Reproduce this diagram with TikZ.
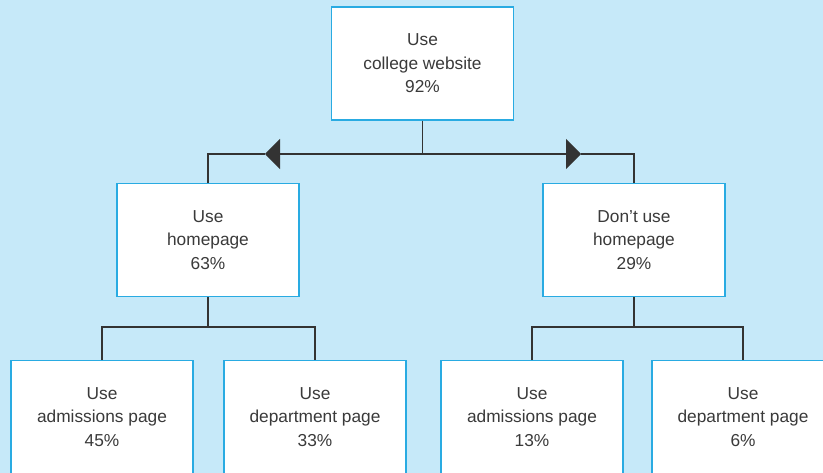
\documentclass[tikz,border=0pt]{standalone}
\usepackage{fontspec}
\setmainfont{Liberation Sans}
\usetikzlibrary{arrows.meta}
\definecolor{bgblue}{HTML}{C6E9F9}
\definecolor{boxblue}{HTML}{29ABE2}
\definecolor{linegray}{HTML}{333333}
\definecolor{txtgray}{HTML}{3A3A3A}
\tikzset{
  box/.style={draw=boxblue, line width=1.2pt, fill=white, minimum width=182pt, minimum height=113pt,
    align=center, text=txtgray, font=\fontsize{17.3}{23.5}\selectfont, inner sep=0pt},
  conn/.style={draw=linegray, line width=1.2pt},
  tip/.style={-{Triangle[length=15pt,width=30pt]}}
}
\begin{document}
\begin{tikzpicture}[x=1pt,y=-1pt]
\fill[bgblue] (0,0) rectangle (823,473);
\useasboundingbox (0,0) rectangle (823,473);
\begin{scope}
\clip (0,0) rectangle (823,473);
\node[box] (top) at (422.5,63.5) {Use\\college website\\92\%};
\node[box] (ml) at (208,240) {Use\\homepage\\63\%};
\node[box] (mr) at (634,240) {Don’t use\\homepage\\29\%};
\node[box] (b1) at (102,417) {Use\\admissions page\\45\%};
\node[box] (b2) at (315,417) {Use\\department page\\33\%};
\node[box] (b3) at (532,417) {Use\\admissions page\\13\%};
\node[box] (b4) at (743,417) {Use\\department page\\6\%};
\coordinate (j) at (422.5,154);
\coordinate (lt) at (265,154);
\coordinate (rt) at (581,154);
\draw[conn] (top.south) -- (j);
\draw[conn,tip] (j) -- (lt);
\draw[conn] (lt) -| (ml.north);
\draw[conn,tip] (j) -- (rt);
\draw[conn] (rt) -| (mr.north);
\coordinate (jl) at (208,327);
\coordinate (jr) at (634,327);
\draw[conn] (ml.south) -- (jl);
\draw[conn] (jl) -| (b1.north);
\draw[conn] (jl) -| (b2.north);
\draw[conn] (mr.south) -- (jr);
\draw[conn] (jr) -| (b3.north);
\draw[conn] (jr) -| (b4.north);
\end{scope}
\end{tikzpicture}
\end{document}
